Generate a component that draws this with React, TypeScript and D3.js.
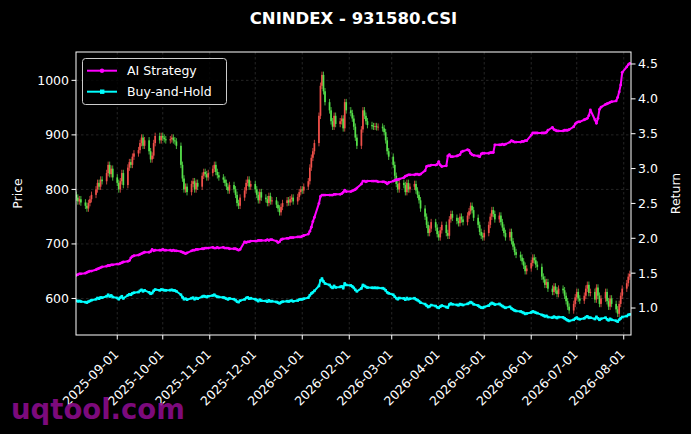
import * as d3 from "d3";

const TITLE = "CNINDEX - 931580.CSI";
const FIRST_DAY = "2025-08-05";
const LAST_DAY = "2026-08-05";

// daily closes, one row per week (Mon-Fri)
const closes = [
  785, 778, 782, 776,
  770, 765, 775, 782, 790,
  800, 812, 805, 818, 815,
  830, 845, 828, 838, 822,
  812, 800, 815, 830, 808,
  840, 850, 845, 860, 866,
  872, 885, 895, 880, 890,
  870, 855, 862, 885, 898,
  890, 898, 895, 892, 890,
  892, 895, 890, 888, 880,
  845, 820, 800, 805, 795,
  810, 815, 800, 812, 805,
  825, 832, 828, 822, 830,
  838, 845, 832, 826, 822,
  818, 812, 805, 798, 808,
  800, 790, 775, 770, 785,
  798, 812, 818, 805, 810,
  800, 790, 780, 795, 785,
  782, 775, 788, 778, 780,
  772, 765, 758, 768, 775,
  780, 776, 782, 785, 778,
  786, 795, 800, 798, 805,
  815, 840, 858, 870, 885,
  935, 990, 1010, 980, 960,
  945, 925, 915, 935, 920,
  925, 930, 912, 960, 945,
  940, 930, 915, 895, 880,
  910, 945, 935, 925, 918,
  916, 915, 916, 914, 915,
  912, 905, 890, 870, 860,
  845, 825, 810, 800, 812,
  808, 795, 812, 800, 805,
  810, 798, 790, 780, 765,
  750, 735, 720, 728, 740,
  730, 718, 712, 725, 735,
  720, 715, 745, 755, 748,
  742, 738, 750, 745, 740,
  752, 760, 770, 762, 748,
  735, 722, 715, 712, 720,
  735, 750, 762, 755, 745,
  752, 740, 730, 720, 712,
  722, 705, 695, 685, 680,
  675, 668, 660, 650, 655,
  665, 675, 670, 662, 658,
  640, 635, 625, 630, 618,
  612, 622, 615, 608, 618,
  615, 605, 595, 585, 578,
  590, 602, 612, 600, 596,
  605, 618, 625, 610, 612,
  598, 620, 605, 590, 600,
  612, 595, 585, 600, 590,
  580, 572, 590, 605, 618,
  628, 640, 645,
];

// AI strategy cumulative return, same days
const aiStrategy = [
  1.47, 1.48, 1.49, 1.49,
  1.5, 1.51, 1.52, 1.53, 1.53,
  1.55, 1.56, 1.57, 1.58, 1.59,
  1.6, 1.61, 1.61, 1.62, 1.62,
  1.63, 1.63, 1.64, 1.65, 1.66,
  1.67, 1.68, 1.72, 1.74, 1.75,
  1.76, 1.77, 1.78, 1.79, 1.8,
  1.8, 1.81, 1.84, 1.82, 1.83,
  1.83, 1.83, 1.84, 1.83, 1.83,
  1.83, 1.82, 1.83, 1.82, 1.82,
  1.81, 1.8, 1.79, 1.78, 1.79,
  1.82, 1.83, 1.83, 1.84, 1.84,
  1.85, 1.85, 1.86, 1.86, 1.86,
  1.87, 1.86, 1.86, 1.87, 1.86,
  1.87, 1.86, 1.86, 1.86, 1.85,
  1.85, 1.85, 1.84, 1.83, 1.84,
  1.95, 1.94, 1.95, 1.95, 1.96,
  1.96, 1.96, 1.97, 1.97, 1.97,
  1.97, 1.98, 1.97, 1.98, 1.98,
  1.96, 1.94, 1.95, 1.98, 1.99,
  2.0, 2.0, 2.01, 2.01, 2.01,
  2.02, 2.02, 2.02, 2.03, 2.04,
  2.06, 2.1, 2.16, 2.24, 2.3,
  2.5, 2.6, 2.62, 2.62, 2.62,
  2.62, 2.62, 2.62, 2.63, 2.63,
  2.63, 2.64, 2.66, 2.69, 2.67,
  2.67, 2.68, 2.69, 2.7, 2.72,
  2.78, 2.82, 2.82, 2.81, 2.82,
  2.82, 2.82, 2.82, 2.82, 2.81,
  2.81, 2.81, 2.8, 2.78, 2.8,
  2.82, 2.83, 2.84, 2.84, 2.85,
  2.87, 2.89, 2.9, 2.91, 2.91,
  2.91, 2.92, 2.92, 2.91, 2.92,
  2.97, 3.03, 3.04, 3.04, 3.05,
  3.05, 3.06, 3.1, 3.05, 3.03,
  3.04, 3.18, 3.2, 3.17, 3.17,
  3.18, 3.19, 3.2, 3.24, 3.25,
  3.27, 3.26, 3.22, 3.2, 3.19,
  3.18, 3.17, 3.21, 3.22, 3.22,
  3.22, 3.23, 3.23, 3.23, 3.34,
  3.34, 3.34, 3.35, 3.34, 3.35,
  3.38, 3.4, 3.39, 3.38, 3.38,
  3.38, 3.39, 3.39, 3.4, 3.4,
  3.48, 3.51, 3.51, 3.51, 3.51,
  3.51, 3.51, 3.51, 3.52, 3.55,
  3.59, 3.56, 3.55, 3.54, 3.54,
  3.54, 3.55, 3.55, 3.55, 3.56,
  3.6, 3.64, 3.66, 3.67, 3.67,
  3.7, 3.71, 3.72, 3.76, 3.84,
  3.7, 3.65, 3.72, 3.85, 3.88,
  3.92, 3.93, 3.94, 3.95, 3.96,
  3.97, 4.02, 4.1, 4.2, 4.38,
  4.46, 4.49, 4.51,
];

const BUY_HOLD_BASE = 710; // price the buy-and-hold return is measured from
const FIRST_OPEN = 790;
const WICK = 6;

const priceTicks = [600, 700, 800, 900, 1000];
const returnTicks = [1.0, 1.5, 2.0, 2.5, 3.0, 3.5, 4.0, 4.5];
const monthTicks = [
  "2025-09-01", "2025-10-01", "2025-11-01", "2025-12-01", "2026-01-01", "2026-02-01",
  "2026-03-01", "2026-04-01", "2026-05-01", "2026-06-01", "2026-07-01", "2026-08-01",
];

const parse = d3.timeParse("%Y-%m-%d");
const days = d3.timeDay
  .range(parse(FIRST_DAY)!, d3.timeDay.offset(parse(LAST_DAY)!, 1))
  .filter((d) => d.getDay() !== 0 && d.getDay() !== 6);
const n = Math.min(days.length, closes.length, aiStrategy.length);

const W = 691;
const H = 434;
const plot = { left: 76, right: 631, top: 52, bottom: 335 };
const FONT = "DejaVu Sans, sans-serif";
const UP = "#f0504a";
const DOWN = "#55e04a";

export default function App() {
  const x = d3
    .scaleTime()
    .domain([new Date(2025, 7, 4, 19), new Date(2026, 7, 5, 19)])
    .range([plot.left, plot.right]);
  const yP = d3.scaleLinear().domain([533, 1052]).range([plot.bottom, plot.top]);
  const yR = d3.scaleLinear().domain([0.613, 4.672]).range([plot.bottom, plot.top]);

  const candles = d3.range(n).map((i) => {
    const open = i === 0 ? FIRST_OPEN : closes[i - 1];
    const close = closes[i];
    return {
      date: days[i],
      open,
      close,
      high: Math.max(open, close) + WICK,
      low: Math.min(open, close) - WICK,
    };
  });
  const buyHold = closes.slice(0, n).map((c) => c / BUY_HOLD_BASE);

  const line = d3
    .line<number>()
    .x((_, i) => x(days[i]))
    .y((v) => yR(v));

  const bodyW = 1.7;

  return (
    <div style={{ position: "fixed", left: 0, top: 0, width: W, height: H, background: "#000" }}>
      <svg width={W} height={H} style={{ display: "block" }} fontFamily={FONT}>
        <rect width={W} height={H} fill="#000" />
        <defs>
          <clipPath id="plotclip">
            <rect x={plot.left} y={plot.top} width={plot.right - plot.left} height={plot.bottom - plot.top} />
          </clipPath>
        </defs>

        {/* grid */}
        <g stroke="#888" strokeOpacity={0.45} strokeWidth={0.6} strokeDasharray="2.5,2.5">
          {monthTicks.map((t) => (
            <line key={t} x1={x(parse(t)!)} x2={x(parse(t)!)} y1={plot.top} y2={plot.bottom} />
          ))}
          {priceTicks.map((t) => (
            <line key={t} x1={plot.left} x2={plot.right} y1={yP(t)} y2={yP(t)} />
          ))}
        </g>

        {/* candles */}
        <g clipPath="url(#plotclip)">
          {candles.map((c, i) => {
            const cx = x(c.date);
            const col = c.close >= c.open ? UP : DOWN;
            const top = yP(Math.max(c.open, c.close));
            const bot = yP(Math.min(c.open, c.close));
            return (
              <g key={i}>
                <line x1={cx} x2={cx} y1={yP(c.high)} y2={yP(c.low)} stroke={col} strokeWidth={0.8} />
                <rect x={cx - bodyW / 2} y={top} width={bodyW} height={Math.max(0.8, bot - top)} fill={col} />
              </g>
            );
          })}
        </g>

        {/* return lines */}
        <g clipPath="url(#plotclip)">
          <path d={line(buyHold) ?? ""} fill="none" stroke="#00ffff" strokeWidth={2} strokeLinejoin="round" />
          {buyHold.map((v, i) => (
            <rect key={i} x={x(days[i]) - 1.3} y={yR(v) - 1.3} width={2.6} height={2.6} fill="#00ffff" />
          ))}
          <path d={line(aiStrategy.slice(0, n)) ?? ""} fill="none" stroke="#ff00ff" strokeWidth={2} strokeLinejoin="round" />
          {aiStrategy.slice(0, n).map((v, i) => (
            <circle key={i} cx={x(days[i])} cy={yR(v)} r={1.4} fill="#ff00ff" />
          ))}
        </g>

        {/* spines */}
        <rect
          x={plot.left}
          y={plot.top}
          width={plot.right - plot.left}
          height={plot.bottom - plot.top}
          fill="none"
          stroke="#fff"
          strokeWidth={1}
        />

        {/* left axis */}
        <g fill="#fff" fontSize={12.5}>
          {priceTicks.map((t) => (
            <g key={t}>
              <line x1={plot.left - 4.5} x2={plot.left} y1={yP(t)} y2={yP(t)} stroke="#fff" />
              <text x={plot.left - 7} y={yP(t)} dy="0.35em" textAnchor="end">
                {t}
              </text>
            </g>
          ))}
          <text transform={`translate(22, ${(plot.top + plot.bottom) / 2}) rotate(-90)`} textAnchor="middle">
            Price
          </text>
        </g>

        {/* right axis */}
        <g fill="#fff" fontSize={12.5}>
          {returnTicks.map((t) => (
            <g key={t}>
              <line x1={plot.right} x2={plot.right + 4.5} y1={yR(t)} y2={yR(t)} stroke="#fff" />
              <text x={plot.right + 7} y={yR(t)} dy="0.35em">
                {t.toFixed(1)}
              </text>
            </g>
          ))}
          <text transform={`translate(680, ${(plot.top + plot.bottom) / 2}) rotate(-90)`} textAnchor="middle">
            Return
          </text>
        </g>

        {/* bottom axis */}
        <g fill="#fff" fontSize={12.5}>
          {monthTicks.map((t) => {
            const tx = x(parse(t)!);
            return (
              <g key={t}>
                <line x1={tx} x2={tx} y1={plot.bottom} y2={plot.bottom + 4.5} stroke="#fff" />
                <text transform={`translate(${tx + 2}, ${plot.bottom + 20}) rotate(-45)`} textAnchor="end">
                  {t}
                </text>
              </g>
            );
          })}
        </g>

        {/* legend */}
        <g>
          <rect x={82.5} y={58.5} width={144} height={46} rx={3} fill="#000" fillOpacity={0.8} stroke="#ccc" strokeWidth={1} />
          <line x1={87} x2={117} y1={70.7} y2={70.7} stroke="#ff00ff" strokeWidth={2} />
          <circle cx={102} cy={70.7} r={2.2} fill="#ff00ff" />
          <text x={127} y={70.7} dy="0.35em" fill="#fff" fontSize={12.5}>
            AI Strategy
          </text>
          <line x1={87} x2={117} y1={91.7} y2={91.7} stroke="#00ffff" strokeWidth={2} />
          <rect x={100} y={89.5} width={4.4} height={4.4} fill="#00ffff" />
          <text x={127} y={91.7} dy="0.35em" fill="#fff" fontSize={12.5}>
            Buy-and-Hold
          </text>
        </g>

        {/* title */}
        <text x={(plot.left + plot.right) / 2} y={24} textAnchor="middle" fill="#fff" fontSize={16.5} fontWeight="bold">
          {TITLE}
        </text>

        {/* watermark */}
        <text x={11} y={419} fill="#8e0c8e" fillOpacity={0.88} fontSize={27.5} fontWeight="bold">
          uqtool.com
        </text>
      </svg>
    </div>
  );
}
